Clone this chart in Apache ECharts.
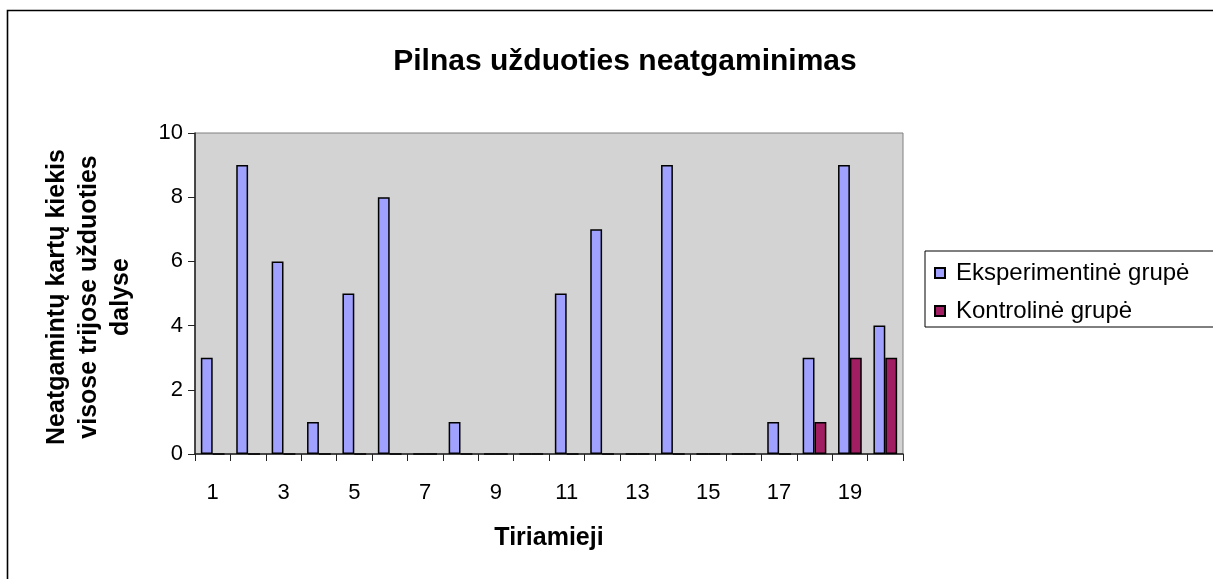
<!DOCTYPE html>
<html>
<head>
<meta charset="utf-8">
<script src="https://cdn.jsdelivr.net/npm/echarts@6/dist/echarts.min.js"></script>
<style>
html,body{margin:0;padding:0;background:#fff;}
#chart{width:1213px;height:579px;}
</style>
</head>
<body>
<div id="chart"></div>
<script>
const titleText = 'Pilnas užduoties neatgaminimas';
const xAxisTitle = 'Tiriamieji';
const yAxisTitle = 'Neatgamintų kartų kiekis\nvisose trijose užduoties\ndalyse';
const categories = ['1','2','3','4','5','6','7','8','9','10','11','12','13','14','15','16','17','18','19','20'];
const seriesNames = ['Eksperimentinė grupė', 'Kontrolinė grupė'];
const experimental = [3, 9, 6, 1, 5, 8, 0, 1, 0, 0, 5, 7, 0, 9, 0, 0, 1, 3, 9, 4];
const control = [0, 0, 0, 0, 0, 0, 0, 0, 0, 0, 0, 0, 0, 0, 0, 0, 0, 1, 3, 3];
const yMin = 0, yMax = 10, yStep = 2;

const FONT = '"Liberation Sans", Arial, sans-serif';
const chart = echarts.init(document.getElementById('chart'), null, {renderer: 'canvas'});
chart.setOption({
  animation: false,
  backgroundColor: '#ffffff',
  textStyle: {fontFamily: FONT, color: '#000'},
  title: {
    text: titleText,
    left: 620, top: 42, textAlign: 'center',
    textStyle: {fontFamily: FONT, fontSize: 30, fontWeight: 'bold', color: '#000'}
  },
  graphic: [
    {type: 'rect', shape: {x: 7.5, y: 10.5, width: 1400, height: 800}, style: {fill: 'none', stroke: '#000', lineWidth: 1.6}, silent: true, z: -1},
    {type: 'text', x: 89, y: 297, rotation: Math.PI / 2,
     style: {text: yAxisTitle, fontFamily: FONT, fontSize: 25, fontWeight: 'bold', fill: '#000',
             align: 'center', verticalAlign: 'middle', lineHeight: 32}}
  ],
  legend: {
    left: 925, top: 251,
    orient: 'vertical',
    data: seriesNames,
    icon: 'rect',
    itemWidth: 10, itemHeight: 10,
    itemGap: 14,
    padding: [10, 30, 4, 9],
    borderColor: '#000', borderWidth: 1,
    textStyle: {fontFamily: FONT, fontSize: 24, color: '#000', padding: [0, 0, 0, 6]}
  },
  grid: {
    left: 195, top: 133, right: 310, bottom: 125,
    show: true, backgroundColor: '#D3D3D3', borderColor: '#808080', borderWidth: 1
  },
  xAxis: {
    type: 'category',
    data: categories,
    name: xAxisTitle,
    nameLocation: 'middle',
    nameGap: 72,
    nameTextStyle: {fontFamily: FONT, fontSize: 25, fontWeight: 'bold', color: '#000'},
    axisLine: {lineStyle: {color: '#222', width: 1.5}},
    axisTick: {show: true, interval: 0, length: 7, lineStyle: {color: '#222', width: 1}},
    axisLabel: {interval: 1, fontFamily: FONT, fontSize: 22, color: '#000', margin: 28}
  },
  yAxis: {
    type: 'value',
    min: yMin, max: yMax, interval: yStep,
    axisLine: {show: true, lineStyle: {color: '#222', width: 1.5}},
    axisTick: {show: true, length: 7, lineStyle: {color: '#222', width: 1}},
    splitLine: {show: false},
    axisLabel: {fontFamily: FONT, fontSize: 22, color: '#000', margin: 12}
  },
  series: [
    {name: seriesNames[0], type: 'bar', data: experimental, barGap: '0%', barCategoryGap: '33%',
     itemStyle: {color: '#A0A0FF', borderColor: '#000', borderWidth: 1.5}},
    {name: seriesNames[1], type: 'bar', data: control, barGap: '0%', barCategoryGap: '33%',
     itemStyle: {color: '#A11E62', borderColor: '#000', borderWidth: 1.5}}
  ]
});
</script>
</body>
</html>
